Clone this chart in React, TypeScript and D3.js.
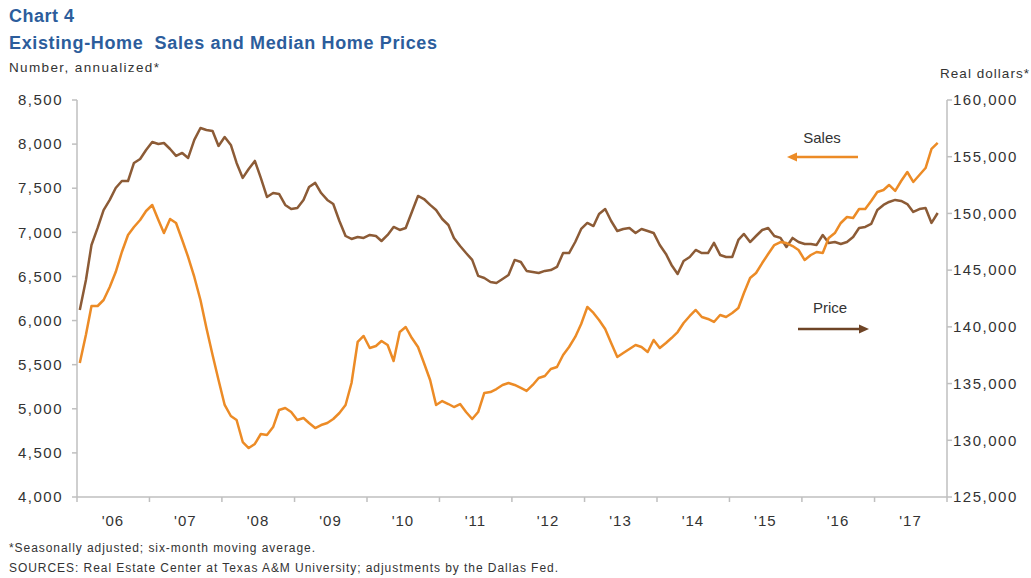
import React from "react";
import * as d3 from "d3";

// Monthly data, Jan 2006 – Nov 2017
const startYear = 2006;
const salesValues = [
  5520, 5840, 6165, 6165, 6233, 6380, 6550, 6777, 6970, 7060, 7140, 7242,
  7310, 7140, 6992, 7151, 7106, 6913, 6720, 6494, 6233, 5916, 5610, 5326,
  5043, 4918, 4873, 4623, 4555, 4601, 4714, 4703, 4793, 4986, 5009, 4963,
  4873, 4895, 4839, 4782, 4816, 4839, 4884, 4952, 5043, 5292, 5757, 5825,
  5689, 5712, 5768, 5723, 5542, 5870, 5927, 5802, 5700, 5519, 5326, 5043,
  5088, 5054, 5020, 5054, 4963, 4884, 4963, 5179, 5190, 5224, 5270, 5292,
  5270, 5236, 5202, 5270, 5349, 5372, 5451, 5474, 5610, 5700, 5814, 5961,
  6154, 6086, 6006, 5904, 5746, 5587, 5632, 5678, 5723, 5700, 5644, 5780,
  5689, 5746, 5802, 5870, 5972, 6052, 6120, 6040, 6018, 5984, 6063, 6040,
  6086, 6142, 6312, 6482, 6539, 6652, 6754, 6856, 6890, 6879, 6845, 6800,
  6686, 6743, 6777, 6766, 6936, 6992, 7106, 7174, 7162, 7264, 7264, 7355,
  7457, 7480, 7537, 7469, 7582, 7684, 7571, 7650, 7729, 7945, 8013,
];
const priceValues = [
  141490, 144130, 147220, 148720, 150300, 151190, 152240, 152860, 152860, 154450, 154800, 155590,
  156300, 156120, 156210, 155680, 155070, 155330, 154890, 156480, 157530, 157360, 157270, 155950,
  156740, 156040, 154450, 153130, 153920, 154630, 153130, 151450, 151800, 151720, 150750, 150390,
  150480, 151190, 152330, 152690, 151800, 151190, 150830, 149330, 148010, 147750, 147920, 147840,
  148100, 148010, 147570, 148100, 148810, 148540, 148720, 150130, 151540, 151270, 150750, 150300,
  149510, 148980, 147840, 147130, 146510, 145900, 144490, 144310, 143960, 143870, 144220, 144570,
  145900, 145720, 144930, 144840, 144750, 144930, 145010, 145280, 146510, 146510, 147480, 148630,
  149160, 148890, 149950, 150390, 149330, 148450, 148630, 148720, 148280, 148630, 148450, 148280,
  147220, 146430, 145460, 144660, 145810, 146160, 146780, 146510, 146510, 147400, 146340, 146160,
  146160, 147660, 148190, 147480, 148010, 148540, 148720, 148010, 147840, 147040, 147840, 147480,
  147310, 147310, 147220, 148100, 147400, 147480, 147310, 147480, 147920, 148720, 148810, 149070,
  150300, 150750, 151010, 151190, 151100, 150830, 150130, 150390, 150480, 149160, 150040,
];
const yearLabels = ["'06", "'07", "'08", "'09", "'10", "'11", "'12", "'13", "'14", "'15", "'16", "'17"];
const leftTicks = [4000, 4500, 5000, 5500, 6000, 6500, 7000, 7500, 8000, 8500];
const rightTicks = [125000, 130000, 135000, 140000, 145000, 150000, 155000, 160000];

const FONT = "'Liberation Sans', Arial, sans-serif";
const SALES_COLOR = "#EC8B26";
const PRICE_COLOR = "#8C5B36";
const AXIS_COLOR = "#BFBFBF";
const TEXT_COLOR = "#333333";
const TITLE_COLOR = "#2C5D9C";

export default function App() {
  const W = 1031;
  const H = 578;
  const left = 77;
  const right = 947;
  const top = 100;
  const bottom = 497;

  const x = d3
    .scaleTime()
    .domain([new Date(startYear, 0, 1), new Date(startYear + 12, 0, 1)])
    .range([left, right]);
  const yL = d3.scaleLinear().domain([4000, 8500]).range([bottom, top]);
  const yR = d3.scaleLinear().domain([125000, 160000]).range([bottom, top]);
  const fmt = d3.format(",");

  const salesPts = salesValues.map((v, i) => ({ d: new Date(startYear, i, 15), v }));
  const pricePts = priceValues.map((v, i) => ({ d: new Date(startYear, i, 15), v }));

  const salesLine = d3
    .line<{ d: Date; v: number }>()
    .x((p) => x(p.d))
    .y((p) => yL(p.v));
  const priceLine = d3
    .line<{ d: Date; v: number }>()
    .x((p) => x(p.d))
    .y((p) => yR(p.v));

  const yearTicks = d3.range(0, 13).map((k) => new Date(startYear + k, 0, 1));

  return (
    <svg
      width={W}
      height={H}
      style={{ position: "absolute", left: 0, top: 0, background: "#fff" }}
      fontFamily={FONT}
    >
      <rect x={0} y={0} width={W} height={H} fill="#fff" />
      {/* Titles */}
      <text x={9} y={22} fontSize={18} fontWeight="bold" fill={TITLE_COLOR} textLength={65} lengthAdjust="spacing">
        Chart 4
      </text>
      <text
        x={9}
        y={49}
        fontSize={18}
        fontWeight="bold"
        fill={TITLE_COLOR}
        textLength={428}
        lengthAdjust="spacing"
        style={{ whiteSpace: "pre" }}
      >
        {"Existing-Home  Sales and Median Home Prices"}
      </text>
      <text x={9} y={72} fontSize={13.5} fill={TEXT_COLOR} textLength={150} lengthAdjust="spacing">
        Number, annualized*
      </text>
      <text x={940} y={78} fontSize={13.5} fill={TEXT_COLOR} textLength={89} lengthAdjust="spacing">
        Real dollars*
      </text>

      {/* Axes */}
      <line x1={left} x2={left} y1={top} y2={bottom} stroke={AXIS_COLOR} strokeWidth={1.5} />
      <line x1={right} x2={right} y1={top} y2={bottom} stroke={AXIS_COLOR} strokeWidth={1.5} />
      <line x1={left} x2={right} y1={bottom} y2={bottom} stroke={AXIS_COLOR} strokeWidth={1.5} />

      {leftTicks.map((t) => (
        <g key={"l" + t}>
          <line x1={left - 5} x2={left} y1={yL(t)} y2={yL(t)} stroke={AXIS_COLOR} strokeWidth={1.5} />
          <text
            x={63}
            y={yL(t)}
            dy="0.35em"
            fontSize={15}
            letterSpacing={1.5}
            fill={TEXT_COLOR}
            textAnchor="end"
          >
            {fmt(t)}
          </text>
        </g>
      ))}
      {rightTicks.map((t) => (
        <g key={"r" + t}>
          <line x1={right} x2={right + 5} y1={yR(t)} y2={yR(t)} stroke={AXIS_COLOR} strokeWidth={1.5} />
          <text
            x={953}
            y={yR(t)}
            dy="0.35em"
            fontSize={15}
            letterSpacing={1.5}
            fill={TEXT_COLOR}
            textAnchor="start"
          >
            {fmt(t)}
          </text>
        </g>
      ))}
      {yearTicks.map((d, k) => (
        <line
          key={"xt" + k}
          x1={x(d)}
          x2={x(d)}
          y1={bottom}
          y2={bottom + 5}
          stroke={AXIS_COLOR}
          strokeWidth={1.5}
        />
      ))}
      {yearLabels.map((lab, k) => (
        <text
          key={"xl" + k}
          x={x(new Date(startYear + k, 6, 1))}
          y={521}
          dy="0.35em"
          fontSize={15}
          letterSpacing={1}
          fill={TEXT_COLOR}
          textAnchor="middle"
        >
          {lab}
        </text>
      ))}

      {/* Lines */}
      <path d={priceLine(pricePts) || ""} fill="none" stroke={PRICE_COLOR} strokeWidth={2.5} strokeLinejoin="round" />
      <path d={salesLine(salesPts) || ""} fill="none" stroke={SALES_COLOR} strokeWidth={2.5} strokeLinejoin="round" />

      {/* Annotations */}
      <text x={822} y={138} dy="0.35em" fontSize={15} fill={TEXT_COLOR} textAnchor="middle">
        Sales
      </text>
      <line x1={794} x2={858} y1={157} y2={157} stroke={SALES_COLOR} strokeWidth={2.5} />
      <path d="M787,157 L797,152.5 L797,161.5 Z" fill={SALES_COLOR} />

      <text x={830} y={308} dy="0.35em" fontSize={15} fill={TEXT_COLOR} textAnchor="middle">
        Price
      </text>
      <line x1={798} x2={862} y1={329} y2={329} stroke="#6E4426" strokeWidth={2.5} />
      <path d="M869,329 L859,324.5 L859,333.5 Z" fill="#6E4426" />

      {/* Footnotes */}
      <text x={9} y={552} fontSize={12} fill={TEXT_COLOR} textLength={306} lengthAdjust="spacing">
        *Seasonally adjusted; six-month moving average.
      </text>
      <text x={9} y={572} fontSize={12} fill={TEXT_COLOR} textLength={549} lengthAdjust="spacing">
        SOURCES: Real Estate Center at Texas A&amp;M University; adjustments by the Dallas Fed.
      </text>
    </svg>
  );
}
